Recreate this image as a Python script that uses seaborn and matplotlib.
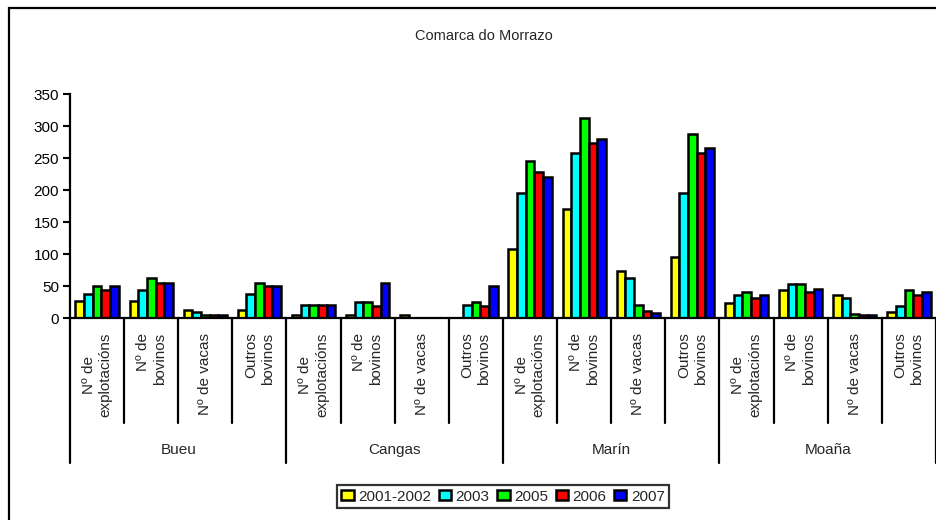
import numpy as np
import pandas as pd
import matplotlib.pyplot as plt
import seaborn as sns
from matplotlib.patches import Rectangle

concellos = ['Bueu', 'Cangas', 'Marín', 'Moaña']
variables = ['Nº de\nexplotacións', 'Nº de\nbovinos', 'Nº de vacas', 'Outros\nbovinos']
anos = ['2001-2002', '2003', '2005', '2006', '2007']
cores = ['#FFFF00', '#00FFFF', '#00FF00', '#FF0000', '#0000FF']

# values per variable, one per year (2001-2002, 2003, 2005, 2006, 2007)
bueu = [[26, 38, 50, 44, 50],
        [26, 43, 62, 55, 55],
        [13, 9, 4, 4, 4],
        [13, 38, 55, 50, 50]]
cangas = [[4, 20, 20, 20, 20],
          [4, 25, 25, 18, 54],
          [4, 0, 0, 0, 0],
          [0, 20, 25, 19, 50]]
marin = [[108, 195, 245, 228, 220],
         [170, 258, 312, 274, 279],
         [74, 62, 20, 11, 8],
         [95, 195, 287, 258, 266]]
moana = [[24, 36, 40, 31, 36],
         [44, 53, 53, 40, 45],
         [36, 31, 6, 4, 4],
         [10, 19, 44, 36, 41]]
datos = {'Bueu': bueu, 'Cangas': cangas, 'Marín': marin, 'Moaña': moana}

rows = []
for c in concellos:
    for j, v in enumerate(variables):
        for k, a in enumerate(anos):
            rows.append({'cat': c + '|' + v, 'ano': a, 'valor': datos[c][j][k]})
df = pd.DataFrame(rows)

sns.set_theme(style='white')
plt.rcParams['font.family'] = ['Liberation Sans', 'DejaVu Sans']

fig = plt.figure(figsize=(9.37, 5.2), dpi=100)
ax = fig.add_axes([70/937, 1-318/520, 866/937, 224/520])
sns.barplot(data=df, x='cat', y='valor', hue='ano', palette=cores, saturation=1,
            edgecolor='black', linewidth=1.8, ax=ax)

ax.set_ylim(0, 350)
ax.set_yticks(range(0, 351, 50))
ax.set_xlim(-0.5, 15.5)
ax.set_xlabel('')
ax.set_ylabel('')
ax.set_xticks([])
ax.tick_params(axis='y', direction='out', length=5, width=1.5, color='black',
               labelsize=11, labelcolor='black', left=True, pad=3)
sns.despine(ax=ax, top=True, right=True)
for s in ['left', 'bottom']:
    ax.spines[s].set_color('black')
    ax.spines[s].set_linewidth(1.6)

tr = ax.get_xaxis_transform()
ncat = len(concellos) * len(variables)
for i in range(ncat + 1):
    bottom = -0.647 if i % 4 == 0 else -0.469
    ax.plot([i - 0.5, i - 0.5], [0, bottom], color='black', lw=1.6,
            transform=tr, clip_on=False)
for g, c in enumerate(concellos):
    for j, v in enumerate(variables):
        ma = 'center' if j == 0 else 'right'
        ax.text(g * 4 + j, -0.065, v, rotation=90, ha='center', va='top',
                multialignment=ma, fontsize=11, transform=tr, linespacing=1.25)
    ax.text(g * 4 + 1.5, -0.59, c, ha='center', va='center', fontsize=11,
            transform=tr)

h, l = ax.get_legend_handles_labels()
if ax.get_legend() is not None:
    ax.get_legend().remove()
leg = fig.legend(h, l, loc='center', bbox_to_anchor=(0.537, 0.045), ncol=5,
                 fontsize=11, frameon=True, fancybox=False, edgecolor='black',
                 handlelength=0.8, handleheight=0.6, handletextpad=0.3,
                 columnspacing=0.5, borderpad=0.3, borderaxespad=0)
leg.get_frame().set_linewidth(1.6)

fig.text(0.516, 1-36/520, 'Comarca do Morrazo', ha='center', va='center', fontsize=10.5)

fig.patches.append(Rectangle((9/937, -0.1), 1.2, 1.1 - 8/520, transform=fig.transFigure,
                             fill=False, edgecolor='black', lw=1.6))

fig.savefig('out.png', dpi=100)
